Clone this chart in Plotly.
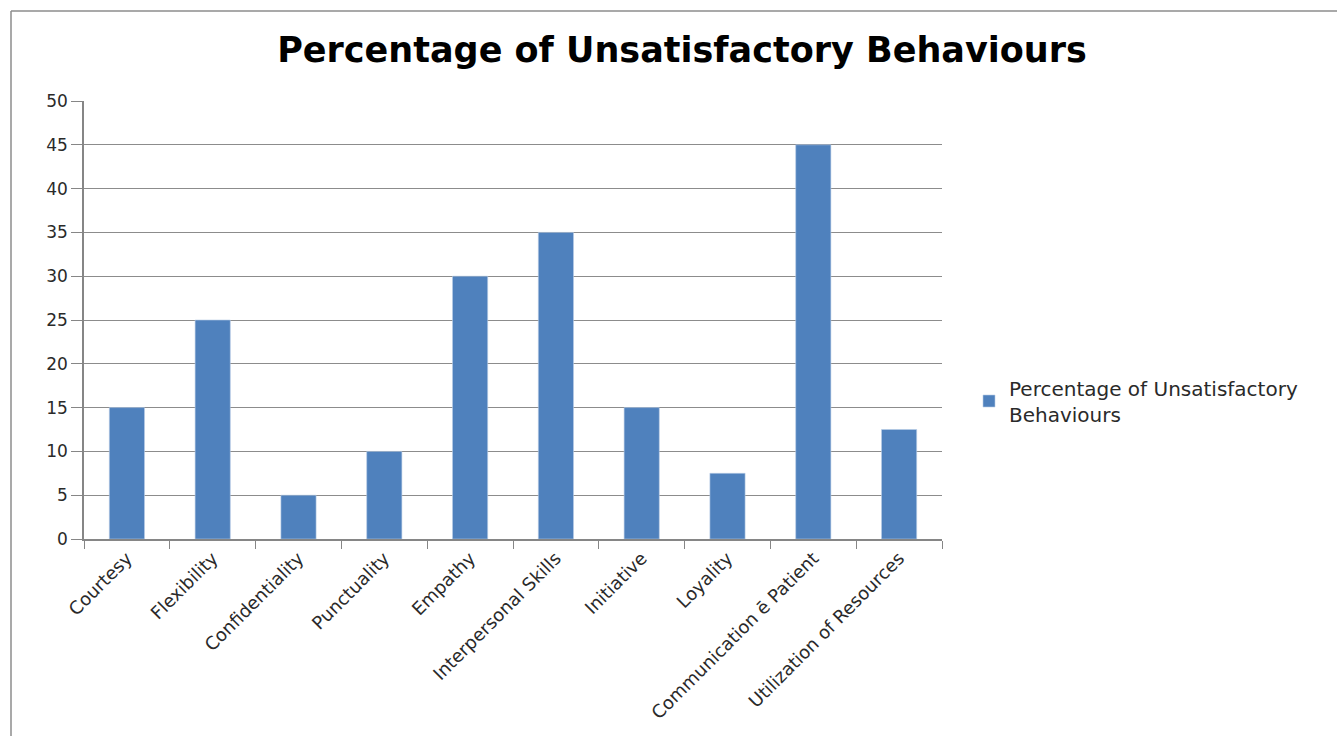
import plotly.graph_objects as go

categories = ["Courtesy", "Flexibility", "Confidentiality", "Punctuality", "Empathy",
              "Interpersonal Skills", "Initiative", "Loyality", "Communication ē Patient",
              "Utilization of Resources"]
values = [15, 25, 5, 10, 30, 35, 15, 7.5, 45, 12.5]
series_name = "Percentage of Unsatisfactory<br>Behaviours"
title = "Percentage of Unsatisfactory Behaviours"
y_ticks = [0, 5, 10, 15, 20, 25, 30, 35, 40, 45, 50]

W, H = 1337, 736
L, R, T, B = 84, 942, 101, 539

fig = go.Figure()
fig.add_trace(go.Bar(
    x=categories, y=values, name=series_name,
    marker=dict(color="#4F81BD", line=dict(color="#B9CDE5", width=0.6)),
    showlegend=True,
))

pw, ph = R - L, B - T
def px2x(x): return (x - L) / pw
def px2y(y): return (B - y) / ph

fig.update_layout(
    width=W, height=H,
    margin=dict(l=L, r=W - R, t=T, b=H - B, pad=0),
    paper_bgcolor="white", plot_bgcolor="white",
    font=dict(family="DejaVu Sans", color="#2a2a2a", size=14),
    title=dict(text="<b>" + title + "</b>", x=(682) / W, xanchor="center",
               y=1 - 50 / H, yanchor="middle",
               font=dict(size=35, family="DejaVu Sans", color="black")),
    bargap=0.59,
    showlegend=True,
    legend=dict(x=px2x(969), y=px2y(401), xanchor="left", yanchor="middle",
                font=dict(size=20, color="#2a2a2a"), bgcolor="rgba(0,0,0,0)",
                itemwidth=30, tracegroupgap=0),
    xaxis=dict(
        tickangle=-45, tickfont=dict(size=18), showgrid=False,
        showline=True, linecolor="#868686", linewidth=1.5,
        ticks="outside", ticklen=8, tickcolor="#868686", tickson="boundaries",
        automargin=False,
    ),
    yaxis=dict(
        range=[0, 50], tickvals=y_ticks, tickfont=dict(size=17),
        showgrid=True, gridcolor="#8C8C8C", gridwidth=1.3,
        showline=True, linecolor="#868686", linewidth=1.5,
        ticks="outside", ticklen=11, tickcolor="#868686",
        zeroline=False, automargin=False,
    ),
    shapes=[
        dict(type="line", xref="paper", yref="paper",
             x0=px2x(11), x1=px2x(W + 5), y0=px2y(11), y1=px2y(11),
             line=dict(color="#8C8C8C", width=1.5)),
        dict(type="line", xref="paper", yref="paper",
             x0=px2x(11), x1=px2x(11), y0=px2y(11), y1=px2y(H + 5),
             line=dict(color="#8C8C8C", width=1.5)),
    ],
)

fig.write_html("out.html")
